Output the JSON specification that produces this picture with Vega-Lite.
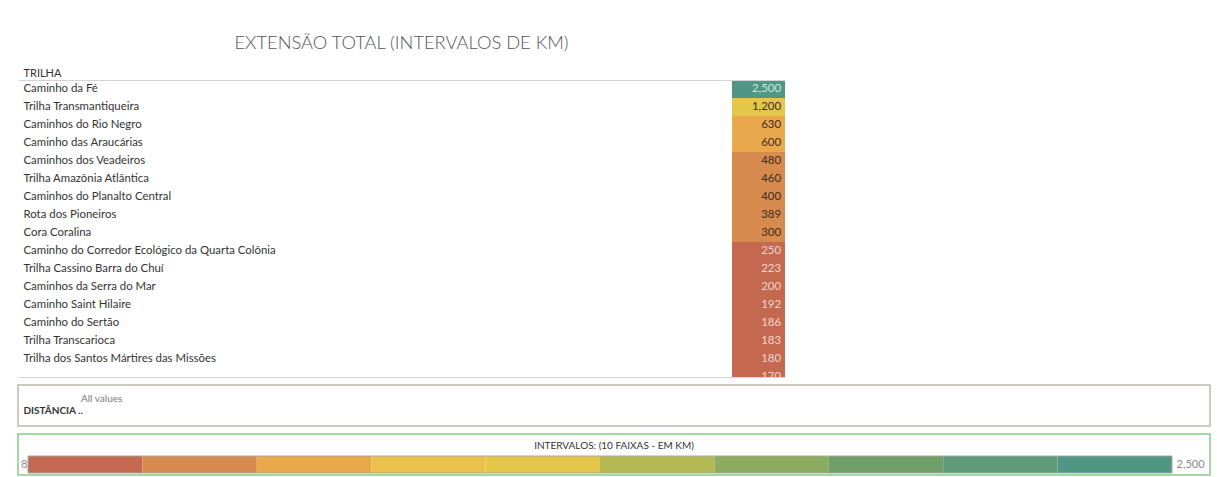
{
  "$schema": "https://vega.github.io/schema/vega-lite/v6.json",
  "background": "white",
  "padding": {"left": 17, "top": 33, "right": 0, "bottom": 0},
  "autosize": {"type": "pad"},
  "config": {
    "font": "Lato",
    "view": {"stroke": null},
    "axis": {"labelFont": "Lato", "titleFont": "Lato"}
  },
  "datasets": {
    "trilhas": [
      {"trilha": "Caminho da Fé", "km": 2500},
      {"trilha": "Trilha Transmantiqueira", "km": 1200},
      {"trilha": "Caminhos do Rio Negro", "km": 630},
      {"trilha": "Caminho das Araucárias", "km": 600},
      {"trilha": "Caminhos dos Veadeiros", "km": 480},
      {"trilha": "Trilha Amazônia Atlântica", "km": 460},
      {"trilha": "Caminhos do Planalto Central", "km": 400},
      {"trilha": "Rota dos Pioneiros", "km": 389},
      {"trilha": "Cora Coralina", "km": 300},
      {"trilha": "Caminho do Corredor Ecológico da Quarta Colônia", "km": 250},
      {"trilha": "Trilha Cassino Barra do Chuí", "km": 223},
      {"trilha": "Caminhos da Serra do Mar", "km": 200},
      {"trilha": "Caminho Saint Hilaire", "km": 192},
      {"trilha": "Caminho do Sertão", "km": 186},
      {"trilha": "Trilha Transcarioca", "km": 183},
      {"trilha": "Trilha dos Santos Mártires das Missões", "km": 180},
      {"trilha": "Caminhos do Rolo Franco", "km": 170}
    ],
    "faixas": [
      {"faixa": 1, "de": 8, "ate": 257.2},
      {"faixa": 2, "de": 257.2, "ate": 506.4},
      {"faixa": 3, "de": 506.4, "ate": 755.6},
      {"faixa": 4, "de": 755.6, "ate": 1004.8},
      {"faixa": 5, "de": 1004.8, "ate": 1254},
      {"faixa": 6, "de": 1254, "ate": 1503.2},
      {"faixa": 7, "de": 1503.2, "ate": 1752.4},
      {"faixa": 8, "de": 1752.4, "ate": 2001.6},
      {"faixa": 9, "de": 2001.6, "ate": 2250.8},
      {"faixa": 10, "de": 2250.8, "ate": 2500}
    ],
    "filtro": [
      {"campo": "DISTÂNCIA ..", "valor": "All values"}
    ]
  },
  "spacing": 8,
  "bounds": "flush",
  "vconcat": [
    {
      "width": 767,
      "height": 297,
      "title": {
        "text": "EXTENSÃO TOTAL (INTERVALOS DE KM)",
        "anchor": "middle",
        "frame": "group",
        "fontSize": 18.3,
        "fontWeight": 300,
        "color": "#555555",
        "offset": 14
      },
      "data": {"name": "trilhas"},
      "encoding": {
        "y": {
          "field": "trilha",
          "type": "nominal",
          "sort": null,
          "scale": {"range": [0, 306], "paddingInner": 0, "paddingOuter": 0},
          "axis": {
            "title": "TRILHA",
            "titleAngle": 0,
            "titleAlign": "left",
            "titleBaseline": "alphabetic",
            "titleX": 5,
            "titleY": -4,
            "titleFontSize": 11,
            "titleFontWeight": "normal",
            "titleColor": "#333333",
            "labelAlign": "left",
            "labelPadding": -5,
            "labelLimit": 0,
            "labelFontSize": 11.4,
            "labelColor": "#333333",
            "ticks": false,
            "domain": false,
            "grid": false,
            "labelExpr": "datum.index < 1 ? datum.label : ''"
          }
        }
      },
      "layer": [
        {
          "mark": {"type": "rect", "clip": true},
          "encoding": {
            "x": {
              "datum": "EXTENSÃO TOTAL",
              "type": "nominal",
              "scale": {"paddingInner": 0.85154, "paddingOuter": 1, "align": 1},
              "axis": {"orient": "top", "title": null, "labels": false, "ticks": false, "grid": false, "domainColor": "#d4d4d4"}
            },
            "color": {
              "field": "km",
              "type": "quantitative",
              "scale": {
                "type": "quantize",
                "domain": [8, 2500],
                "range": ["#c4694f", "#d68a4e", "#e9a84b", "#ecc14b", "#e4c64b", "#b5b953", "#8bab5f", "#6f9e69", "#5f9b78", "#4f9784"]
              },
              "legend": null
            }
          }
        },
        {
          "mark": {"type": "text", "clip": true, "align": "right", "baseline": "middle", "dx": -4, "fontSize": 11.4},
          "encoding": {
            "x": {
              "datum": "EXTENSÃO TOTAL",
              "type": "nominal",
              "bandPosition": 1,
              "axis": {"orient": "bottom", "title": null, "labels": false, "ticks": false, "grid": false, "domainColor": "#d4d4d4"}
            },
            "text": {"field": "km", "type": "quantitative", "format": ",.0f"},
            "color": {
              "condition": [
                {"test": "datum.km >= 2250.8", "value": "#d3e6dd"},
                {"test": "datum.km < 257.2", "value": "#f5d6cc"}
              ],
              "value": "#3e2d1d"
            }
          }
        }
      ],
      "resolve": {"axis": {"x": "independent"}}
    },
    {
      "width": 1192,
      "height": 41,
      "view": {"stroke": "#bdb9ae", "strokeWidth": 1.5},
      "data": {"name": "filtro"},
      "mark": {"type": "rect", "opacity": 0},
      "encoding": {
        "x": {
          "field": "valor",
          "type": "nominal",
          "scale": {"paddingInner": 0, "paddingOuter": 0},
          "axis": {
            "orient": "top",
            "title": null,
            "domain": false,
            "ticks": false,
            "grid": false,
            "labelAngle": 0,
            "labelAlign": "left",
            "labelBaseline": "bottom",
            "labelOffset": -533,
            "labelPadding": -18,
            "labelFontSize": 10,
            "labelColor": "#7a7a7a"
          }
        },
        "y": {
          "field": "campo",
          "type": "nominal",
          "scale": {"paddingInner": 0, "paddingOuter": 0},
          "axis": {
            "title": null,
            "domain": false,
            "ticks": false,
            "grid": false,
            "labelAlign": "left",
            "labelPadding": -5,
            "labelOffset": 5,
            "labelFontWeight": "bold",
            "labelFontSize": 10,
            "labelColor": "#333333"
          }
        }
      }
    },
    {
      "width": 1192,
      "height": 41,
      "view": {"stroke": "#86cc86", "strokeWidth": 1.5},
      "title": {
        "text": "INTERVALOS: (10 FAIXAS - EM KM)",
        "anchor": "middle",
        "frame": "group",
        "orient": "top",
        "offset": -17,
        "fontSize": 10,
        "fontWeight": "normal",
        "color": "#333333"
      },
      "data": {"name": "faixas"},
      "layer": [
        {
          "mark": {"type": "rect"},
          "encoding": {
            "x": {
              "field": "de",
              "type": "quantitative",
              "scale": {"domain": [8, 2500], "range": [10, 1154], "nice": false, "zero": false},
              "axis": {
                "orient": "bottom",
                "values": [8, 2500],
                "format": ",.0f",
                "title": null,
                "domain": false,
                "ticks": false,
                "grid": false,
                "labelBaseline": "middle",
                "labelPadding": -11,
                "labelFontSize": 11,
                "labelColor": "#8a8a8a",
                "labelAlign": {"condition": {"test": "datum.value <= 8", "value": "right"}, "value": "left"},
                "labelOffset": {"condition": {"test": "datum.value <= 8", "value": -1}, "value": 4}
              }
            },
            "x2": {"field": "ate"},
            "y": {
              "datum": "barra",
              "type": "nominal",
              "scale": {"range": [22, 39], "paddingInner": 0, "paddingOuter": 0},
              "axis": null
            },
            "fill": {
              "field": "faixa",
              "type": "ordinal",
              "scale": {"range": ["#c4694f", "#d68a4e", "#e9a84b", "#ecc14b", "#e4c64b", "#b5b953", "#8bab5f", "#6f9e69", "#5f9b78", "#4f9784"]},
              "legend": null
            }
          }
        },
        {
          "mark": {"type": "rect", "fill": null, "stroke": "#a8a8a8", "strokeWidth": 1},
          "encoding": {
            "x": {"aggregate": "min", "field": "de", "type": "quantitative"},
            "x2": {"aggregate": "max", "field": "ate"},
            "y": {"datum": "barra", "type": "nominal"}
          }
        }
      ]
    }
  ]
}
